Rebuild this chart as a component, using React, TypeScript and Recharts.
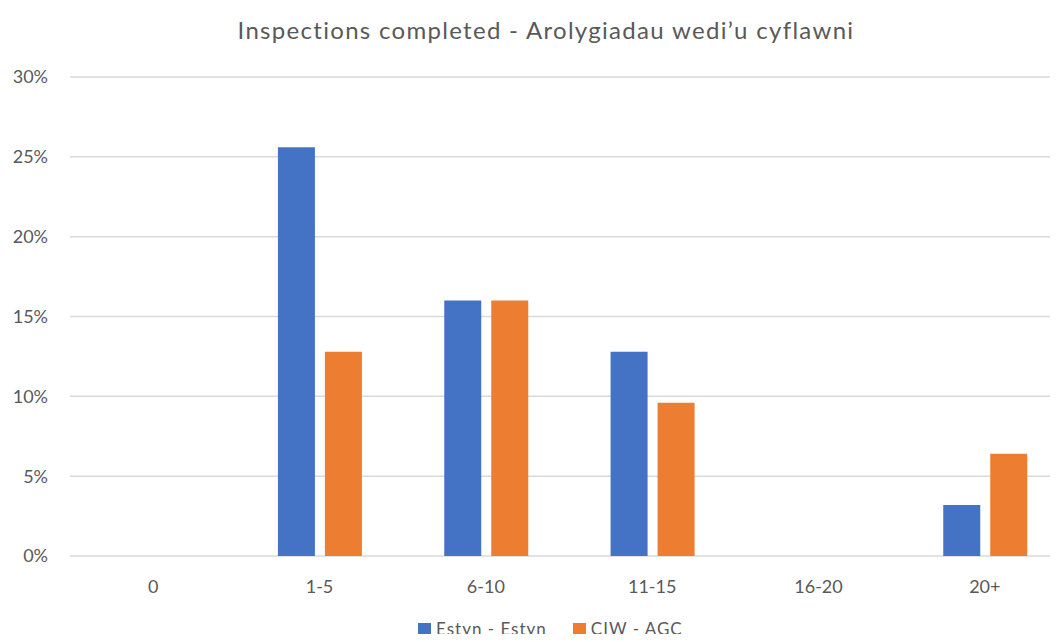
import { BarChart, Bar, XAxis, YAxis, CartesianGrid } from 'recharts';

const CATEGORIES = ['0', '1-5', '6-10', '11-15', '16-20', '20+'];
const ESTYN = [0, 25.6, 16, 12.8, 0, 3.2];
const CIW = [0, 12.8, 16, 9.6, 0, 6.4];
const Y_TICKS = [0, 5, 10, 15, 20, 25, 30];

const SERIES = [
  { key: 'estyn', name: 'Estyn - Estyn', color: '#4472C4' },
  { key: 'ciw', name: 'CIW - AGC', color: '#ED7D31' },
];

const TEXT = '#595959';
const FONT = 'Lato, "Open Sans", sans-serif';

const data = CATEGORIES.map((name, i) => ({ name, estyn: ESTYN[i], ciw: CIW[i] }));

export default function App() {
  return (
    <div
      style={{
        margin: -8,
        width: 1058,
        height: 642,
        overflow: 'hidden',
        position: 'relative',
        background: '#fff',
        fontFamily: FONT,
      }}
    >
      <div
        style={{
          position: 'absolute',
          top: 15,
          left: 0,
          width: 1092,
          textAlign: 'center',
          fontSize: 24,
          letterSpacing: 1.3,
          color: TEXT,
        }}
      >
        Inspections completed - Arolygiadau wedi’u cyflawni
      </div>

      <BarChart
        width={1080}
        height={642}
        data={data}
        margin={{ top: 77, right: 12, bottom: 0, left: 10 }}
        barCategoryGap="25%"
        barGap={10}
      >
        <CartesianGrid vertical={false} stroke="#d9d9d9" strokeWidth={1.5} />
        <XAxis
          dataKey="name"
          axisLine={false}
          tickLine={false}
          tickMargin={18}
          height={86}
          tick={{ fontSize: 18, fill: TEXT, fontFamily: FONT }}
        />
        <YAxis
          domain={[0, 30]}
          ticks={Y_TICKS}
          tickFormatter={(v) => `${v}%`}
          axisLine={false}
          tickLine={false}
          tickMargin={16}
          width={60}
          tick={{ fontSize: 18, fill: TEXT, fontFamily: FONT }}
        />
        {SERIES.map((s) => (
          <Bar key={s.key} dataKey={s.key} name={s.name} fill={s.color} isAnimationActive={false} />
        ))}
      </BarChart>

      {/* legend at the bottom edge */}
      <div
        style={{
          position: 'absolute',
          top: 619,
          left: 418,
          display: 'flex',
          alignItems: 'center',
          fontSize: 17,
          lineHeight: '20px',
          letterSpacing: 1,
          color: TEXT,
          whiteSpace: 'nowrap',
        }}
      >
        {SERIES.map((s, i) => (
          <div key={s.key} style={{ display: 'flex', alignItems: 'center', marginRight: i === 0 ? 26 : 0 }}>
            <div style={{ width: 13, height: 12, background: s.color, marginRight: 5 }} />
            <span>{s.name}</span>
          </div>
        ))}
      </div>
    </div>
  );
}
